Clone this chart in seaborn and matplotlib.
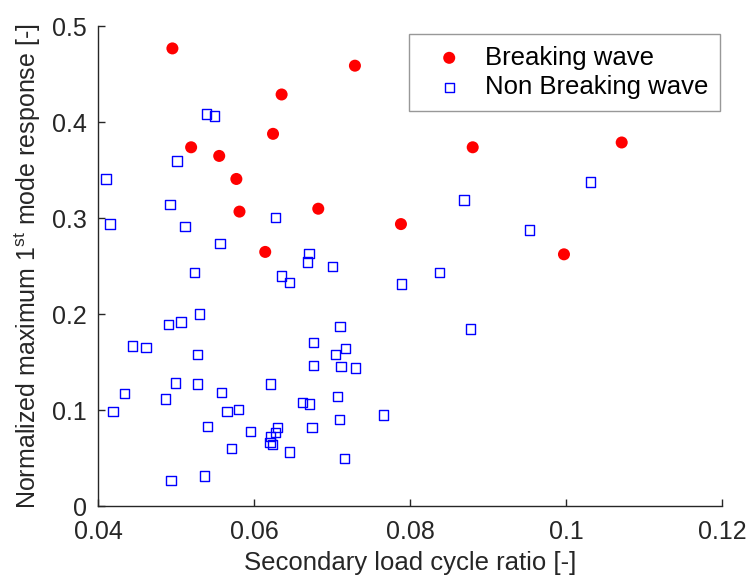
import matplotlib
matplotlib.use("Agg")
import matplotlib.pyplot as plt
import matplotlib.ticker as mticker
import seaborn as sns
import numpy as np

# Breaking wave
brk_x = [0.0495, 0.0635, 0.0624, 0.0519, 0.0555, 0.0577, 0.0581, 0.0614,
         0.0682, 0.0729, 0.0880, 0.0788, 0.1071, 0.0997]
brk_y = [0.477, 0.429, 0.388, 0.374, 0.365, 0.341, 0.307, 0.265,
         0.310, 0.459, 0.374, 0.294, 0.379, 0.2625]

# Non breaking wave
nbr_x = [0.0539, 0.0549, 0.0501, 0.0410, 0.0492, 0.0415, 0.0511, 0.0627, 0.0556, 0.0670,
         0.0668, 0.0869, 0.0700, 0.1031, 0.0953, 0.0523, 0.0635, 0.0645, 0.0530, 0.0490,
         0.0506, 0.0444, 0.0461, 0.0527, 0.0676, 0.0676, 0.0434, 0.0499, 0.0527, 0.0621,
         0.0486, 0.0558, 0.0419, 0.0565, 0.0580, 0.0662, 0.0671, 0.0540, 0.0595, 0.0630,
         0.0627, 0.0621, 0.0620, 0.0623, 0.0674, 0.0571, 0.0645, 0.0493, 0.0536, 0.0837,
         0.0789, 0.0710, 0.0877, 0.0717, 0.0704, 0.0711, 0.0730, 0.0707, 0.0709, 0.0766,
         0.0716]
nbr_y = [0.4087, 0.4066, 0.3597, 0.341, 0.3142, 0.294, 0.2913, 0.301, 0.2735, 0.263,
         0.2545, 0.319, 0.250, 0.338, 0.288, 0.2434, 0.240, 0.233, 0.2003, 0.1896,
         0.192, 0.167, 0.1656, 0.1583, 0.1704, 0.1465, 0.1177, 0.1284, 0.1274, 0.1274,
         0.1118, 0.1188, 0.0985, 0.0985, 0.101, 0.1083, 0.1066, 0.0829, 0.0781, 0.0819,
         0.0771, 0.0725, 0.0667, 0.0646, 0.0819, 0.0604, 0.0566, 0.0267, 0.0316, 0.2437,
         0.2316, 0.1871, 0.1847, 0.1646, 0.1583, 0.1454, 0.1441, 0.1142, 0.0902, 0.0951,
         0.0496]

x_ticks = [0.04, 0.06, 0.08, 0.10, 0.12]
y_ticks = [0, 0.1, 0.2, 0.3, 0.4, 0.5]

sns.set_theme(style="ticks")
plt.rcParams['font.family'] = ['Liberation Sans', 'DejaVu Sans']
plt.rcParams['mathtext.fontset'] = 'custom'
plt.rcParams['mathtext.rm'] = 'Liberation Sans'
plt.rcParams['mathtext.it'] = 'Liberation Sans:italic'

fig = plt.figure(figsize=(7.51, 5.85), dpi=100)
ax = fig.add_axes([0.1309, 0.1345, 0.8309, 0.8205])

sns.scatterplot(x=brk_x, y=brk_y, ax=ax, marker='o', color='#ff0000',
                edgecolor='none', s=75, label='Breaking wave', zorder=3)
sns.scatterplot(x=nbr_x, y=nbr_y, ax=ax, marker='s', color='#0000ff',
                facecolor='none', edgecolor='#0000ff', linewidth=1.0, s=45,
                label='Non Breaking wave', zorder=3)

ax.set_xlim(0.04, 0.12)
ax.set_ylim(0, 0.5)
ax.set_xticks(x_ticks)
ax.set_yticks(y_ticks)
ax.xaxis.set_major_formatter(mticker.FormatStrFormatter('%g'))
ax.yaxis.set_major_formatter(mticker.FormatStrFormatter('%g'))

tc = '#262626'
ax.tick_params(direction='in', length=5, width=1, colors=tc, labelsize=18)
ax.tick_params(axis='x', pad=10)
ax.tick_params(axis='y', pad=8)
for s in ['left', 'bottom']:
    ax.spines[s].set_color(tc)
    ax.spines[s].set_linewidth(1.0)
for s in ['top', 'right']:
    ax.spines[s].set_visible(False)

ax.set_xlabel('Secondary load cycle ratio [-]', fontsize=18.5, color=tc, labelpad=5)
ax.set_ylabel(r'Normalized maximum 1$^{\mathrm{st}}$ mode response [-]', fontsize=18,
              color=tc, labelpad=7)

leg = ax.legend(loc='upper right', bbox_to_anchor=(0.9965, 0.984), fontsize=18.5,
                frameon=True, fancybox=False, edgecolor='#7f7f7f', borderpad=0.45,
                handletextpad=0.3, labelspacing=0.22, handlelength=2.2, borderaxespad=0)
leg.get_frame().set_linewidth(1.0)
for t in leg.get_texts():
    t.set_color('#000000')

fig.savefig('out.png', dpi=100)
